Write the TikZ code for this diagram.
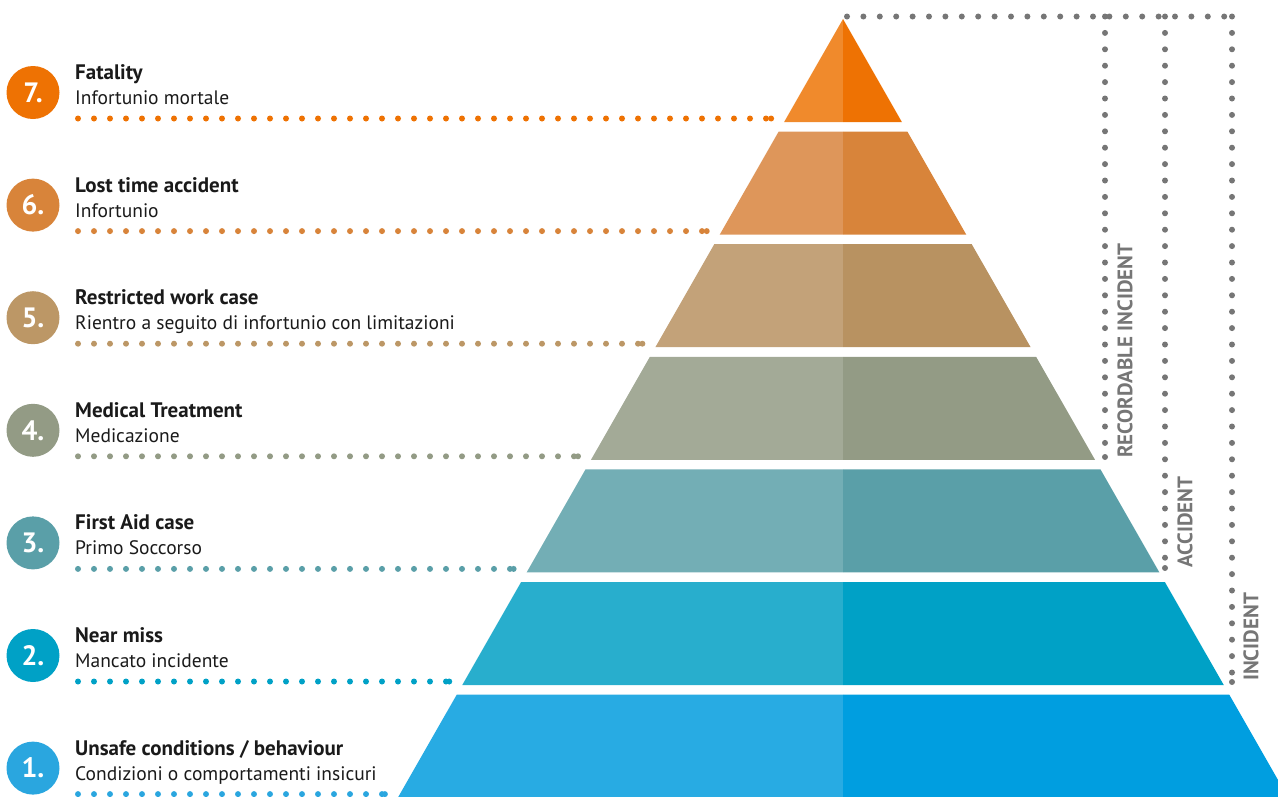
\documentclass[tikz,border=0pt]{standalone}
\usepackage{fontspec}
\setmainfont{PT Sans}
\definecolor{cSevenL}{HTML}{F08A2C}\definecolor{cSevenR}{HTML}{EE7203}\definecolor{cSevenC}{HTML}{EE7203}
\definecolor{cSixL}{HTML}{DE965A}\definecolor{cSixR}{HTML}{D8843A}\definecolor{cSixC}{HTML}{D8843A}
\definecolor{cFiveL}{HTML}{C3A279}\definecolor{cFiveR}{HTML}{B89261}\definecolor{cFiveC}{HTML}{BC9766}
\definecolor{cFourL}{HTML}{A3AA97}\definecolor{cFourR}{HTML}{939B85}\definecolor{cFourC}{HTML}{939B85}
\definecolor{cThreeL}{HTML}{73AEB5}\definecolor{cThreeR}{HTML}{5A9FA8}\definecolor{cThreeC}{HTML}{5A9FA8}
\definecolor{cTwoL}{HTML}{28AECD}\definecolor{cTwoR}{HTML}{00A1C6}\definecolor{cTwoC}{HTML}{00A1C6}
\definecolor{cOneL}{HTML}{28ABE3}\definecolor{cOneR}{HTML}{009EE0}\definecolor{cOneC}{HTML}{2AA6DF}
\definecolor{txt}{HTML}{1A1A1A}
\definecolor{bracket}{HTML}{767676}
\begin{document}
\begin{tikzpicture}[x=1pt,y=-1pt,
  numcircle/.style={circle,minimum size=53pt,inner sep=0pt,text=white,font=\fontsize{28}{28}\selectfont\bfseries},
  titletext/.style={anchor=base west,inner sep=0pt,text=txt,font=\fontsize{21}{22}\selectfont\bfseries},
  subtext/.style={anchor=base west,inner sep=0pt,text=txt,font=\fontsize{19.5}{22}\selectfont},
  leveldots/.style={line width=6pt,line cap=round,dash pattern=on 0pt off 16pt},
  graydots/.style={bracket,line width=6pt,line cap=round,dash pattern=on 0pt off 16.4pt},
  sidelabel/.style={rotate=90,anchor=west,inner sep=0pt,text=bracket,font=\fontsize{21}{22}\selectfont\bfseries}]
\useasboundingbox (0,0) rectangle (1278,796);
\begin{scope}
\clip (0,0) rectangle (1278,796);
\foreach \n/\num/\cl/\cr/\cc/\ttl/\sub in {
  0/7/cSevenL/cSevenR/cSevenC/{Fatality}/{Infortunio mortale},
  1/6/cSixL/cSixR/cSixC/{Lost time accident}/{Infortunio},
  2/5/cFiveL/cFiveR/cFiveC/{Restricted work case}/{Rientro a seguito di infortunio con limitazioni},
  3/4/cFourL/cFourR/cFourC/{Medical Treatment}/{Medicazione},
  4/3/cThreeL/cThreeR/cThreeC/{First Aid case}/{Primo Soccorso},
  5/2/cTwoL/cTwoR/cTwoC/{Near miss}/{Mancato incidente},
  6/1/cOneL/cOneR/cOneC/{Unsafe conditions / behaviour}/{Condizioni o comportamenti insicuri}}{
  \pgfmathsetmacro{\yb}{122+112.6*\n}
  \pgfmathsetmacro{\yt}{\n==0 ? 19 : \yb-103}
  \pgfmathsetmacro{\wt}{0.5717*(\yt-19)}
  \pgfmathsetmacro{\wb}{0.5717*(\yb-19)}
  \pgfmathsetmacro{\yd}{\yb-3.5}
  \pgfmathsetmacro{\xe}{843-\wb-13}
  \fill[\cl] (843-\wt,\yt) -- (843,\yt) -- (843,\yb) -- (843-\wb,\yb) -- cycle;
  \fill[\cr] (843,\yt) -- (843+\wt,\yt) -- (843+\wb,\yb) -- (843,\yb) -- cycle;
  \node[numcircle,fill=\cc] (c\num) at (33,\yd-26) {\num.};
  \node[titletext] (t\num) at (75,\yd-39) {\ttl};
  \node[subtext] (s\num) at (75,\yd-14) {\sub};
  \coordinate (ds\num) at (78,\yd);
  \coordinate (de\num) at (\xe,\yd);
  \draw[leveldots,\cc] (ds\num) -- (de\num);
  \fill[\cc] (de\num) circle (3pt);
}
\end{scope}
% brackets
\coordinate (top0) at (847,16.5);
\coordinate (topR) at (1105,16.5);
\coordinate (topA) at (1165,16.5);
\coordinate (topI) at (1232,16.5);
\coordinate (botR) at (1105,457);
\coordinate (botA) at (1165,568);
\coordinate (botI) at (1232,682);
\draw[graydots] (top0) -- (topI);
\draw[graydots] (topR) -- (botR);
\draw[graydots] (topA) -- (botA);
\draw[graydots] (topI) -- (botI);
\fill[bracket] (botR) circle (3pt) (botA) circle (3pt) (botI) circle (3pt);
\node[sidelabel] (lR) at (1125,458) {RECORDABLE INCIDENT};
\node[sidelabel] (lA) at (1185,568) {ACCIDENT};
\node[sidelabel] (lI) at (1251,681) {INCIDENT};
\end{tikzpicture}
\end{document}
